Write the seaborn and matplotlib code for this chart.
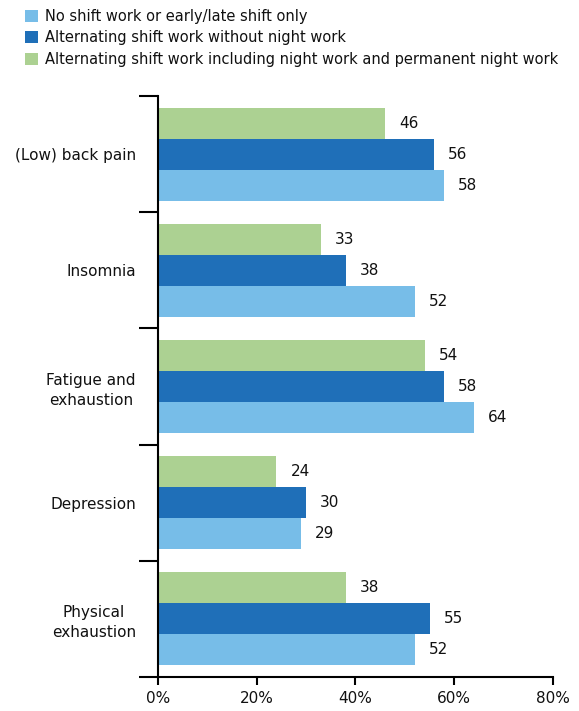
import pandas as pd
import matplotlib.pyplot as plt
import seaborn as sns
from matplotlib.patches import Patch

categories = ['(Low) back pain', 'Insomnia', 'Fatigue and\nexhaustion', 'Depression', 'Physical\nexhaustion']
groups = ['No shift work or early/late shift only',
          'Alternating shift work without night work',
          'Alternating shift work including night work and permanent night work']
no_shift = [58, 52, 64, 29, 52]
alt_no_night = [56, 38, 58, 30, 55]
alt_night = [46, 33, 54, 24, 38]
xticks = [0, 20, 40, 60, 80]
xlabels = ['0%', '20%', '40%', '60%', '80%']

colors = {groups[0]: '#77bde8', groups[1]: '#1f6fb8', groups[2]: '#acd192'}

rows = []
for vals, g in [(no_shift, groups[0]), (alt_no_night, groups[1]), (alt_night, groups[2])]:
    for c, v in zip(categories, vals):
        rows.append({'category': c, 'group': g, 'value': v})
df = pd.DataFrame(rows)

sns.set_style('white')
plt.rcParams['font.family'] = ['DejaVu Sans']
plt.rcParams['text.color'] = '#111111'
plt.rcParams['xtick.color'] = 'black'
plt.rcParams['ytick.color'] = 'black'
plt.rcParams['xtick.labelcolor'] = '#111111'
plt.rcParams['ytick.labelcolor'] = '#111111'

fig = plt.figure(figsize=(5.79, 7.11), dpi=100)
ax = fig.add_axes([0.2729, 0.0478, 0.955 - 0.2729, 0.865 - 0.0478])

# green on top, then dark blue, then light blue within each group
hue_order = [groups[2], groups[1], groups[0]]
sns.barplot(data=df, y='category', x='value', hue='group', hue_order=hue_order,
            order=categories, palette=colors, orient='h', width=0.8,
            saturation=1, legend=False, linewidth=0, ax=ax)

for cont in ax.containers:
    ax.bar_label(cont, fmt='%d', padding=10, fontsize=11, color='#111111')

ax.set_xlim(0, 80)
ax.set_ylim(4.5, -0.5)
ax.set_xticks(xticks)
ax.set_xticklabels(xlabels, fontsize=11)
ax.set_xlabel('')
ax.set_ylabel('')

# boundary ticks as major, category names as minor (no tick)
ax.set_yticks([-0.5, 0.5, 1.5, 2.5, 3.5, 4.5])
ax.set_yticklabels([])
ax.set_yticks(range(len(categories)), minor=True)
ax.set_yticklabels(categories, minor=True, fontsize=11, multialignment='center', linespacing=1.4)
ax.tick_params(axis='y', which='major', length=14, width=1.5, direction='out', left=True)
ax.tick_params(axis='y', which='minor', length=0, pad=16)
ax.tick_params(axis='x', length=6, width=1.5, direction='out', bottom=True, pad=4)

for s in ['top', 'right']:
    ax.spines[s].set_visible(False)
for s in ['left', 'bottom']:
    ax.spines[s].set_linewidth(1.5)
    ax.spines[s].set_color('black')

handles = [Patch(facecolor=colors[g], edgecolor='none') for g in groups]
fig.legend(handles, groups, loc='upper left', bbox_to_anchor=(0.033, 0.996),
           frameon=False, fontsize=10.5, handlelength=0.9, handleheight=0.9,
           handletextpad=0.5, labelspacing=0.45, borderaxespad=0)

fig.savefig('out.png', dpi=100)
